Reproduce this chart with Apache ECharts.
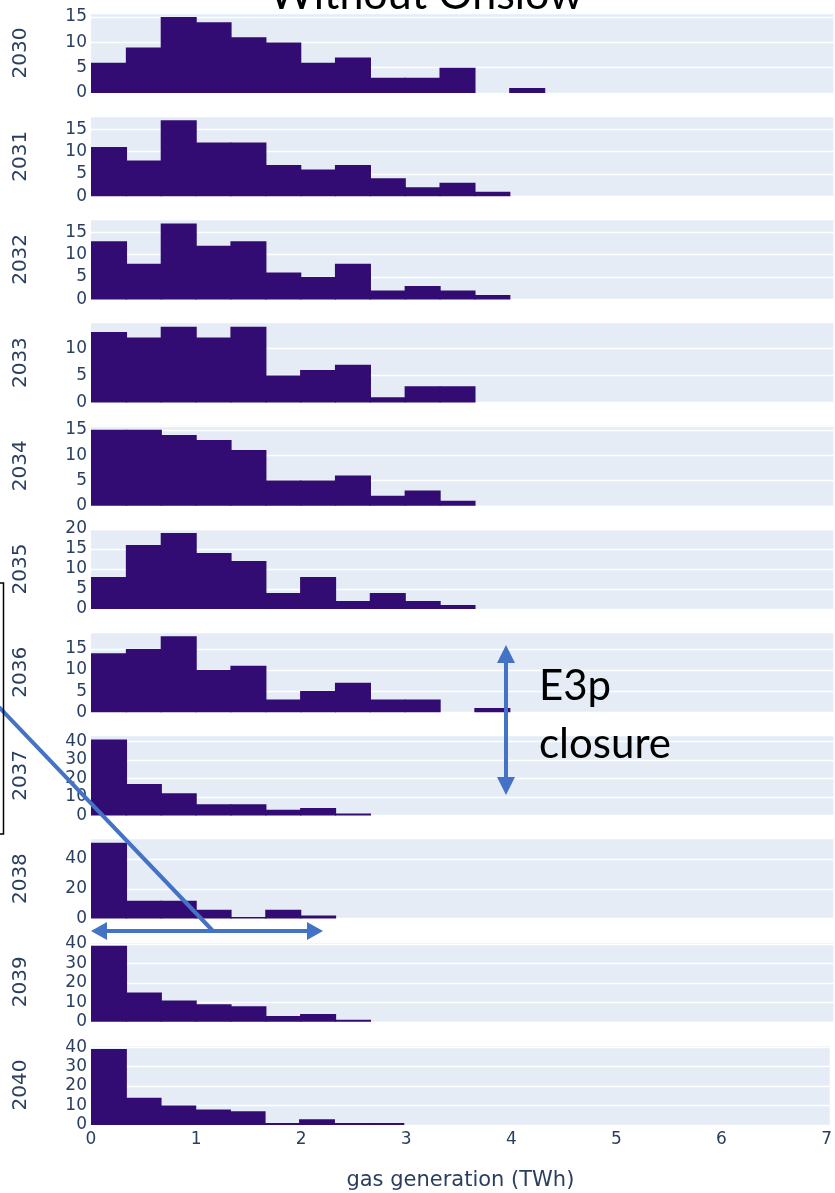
<!DOCTYPE html>
<html>
<head>
<meta charset="utf-8">
<script src="https://cdn.jsdelivr.net/npm/echarts@6/dist/echarts.min.js"></script>
<style>
html,body{margin:0;padding:0;background:#fff;}
#chart{width:835px;height:1193px;}
</style>
</head>
<body>
<div id="chart"></div>
<script>
// ---- data ----
const years = ['2030','2031','2032','2033','2034','2035','2036','2037','2038','2039','2040'];
const binWidth = 0.33; // TWh per histogram bin, bins start at 0
const counts2030 = [6, 9, 15, 14, 11, 10, 6, 7, 3, 3, 5, 0, 1];
const counts2031 = [11, 8, 17, 12, 12, 7, 6, 7, 4, 2, 3, 1];
const counts2032 = [13, 8, 17, 12, 13, 6, 5, 8, 2, 3, 2, 1];
const counts2033 = [13, 12, 14, 12, 14, 5, 6, 7, 1, 3, 3];
const counts2034 = [15, 15, 14, 13, 11, 5, 5, 6, 2, 3, 1];
const counts2035 = [8, 16, 19, 14, 12, 4, 8, 2, 4, 2, 1];
const counts2036 = [14, 15, 18, 10, 11, 3, 5, 7, 3, 3, 0, 1];
const counts2037 = [41, 17, 12, 6, 6, 3, 4, 1];
const counts2038 = [51, 12, 12, 6, 1, 6, 2];
const counts2039 = [39, 15, 11, 9, 8, 3, 4, 1];
const counts2040 = [39, 14, 10, 8, 7, 1, 3, 1, 1];
const yTickIntervals = [5, 5, 5, 5, 5, 5, 5, 10, 20, 10, 10];
const xTicks = [0, 1, 2, 3, 4, 5, 6, 7];
const xTitle = 'gas generation (TWh)';
const chartTitle = 'Without Onslow';
const noteLines = ['E3p', 'closure'];

const allCounts = [counts2030, counts2031, counts2032, counts2033, counts2034, counts2035,
                   counts2036, counts2037, counts2038, counts2039, counts2040];

// ---- layout ----
const W = 835, H = 1193;
const gridLeft = 91, xMax = 7.03, pxPerUnit = 105.6;
const gridWidth = xMax * pxPerUnit;
const panelTop0 = 13, panelStep = 103.2, panelH = 80;
const txt = '#2a3f5f';
const ff = 'DejaVu Sans';

const grids = [], xAxes = [], yAxes = [], series = [];
years.forEach((yr, i) => {
  const counts = allCounts[i];
  const maxC = Math.max.apply(null, counts);
  const iv = yTickIntervals[i];
  const last = i === years.length - 1;
  grids.push({
    left: gridLeft, width: gridWidth,
    top: panelTop0 + i * panelStep, height: panelH,
    show: true, backgroundColor: '#E5ECF6', borderWidth: 0
  });
  xAxes.push({
    type: 'value', gridIndex: i, min: xTicks[0], max: xMax, interval: 1,
    axisLine: {show: false}, axisTick: {show: false}, splitLine: {show: false},
    axisLabel: {show: last, color: txt, fontFamily: ff, fontSize: 17, margin: 6,
      formatter: v => (xTicks.indexOf(v) >= 0 ? String(v) : '')},
    name: last ? xTitle : '', nameLocation: 'middle', nameGap: 45,
    nameTextStyle: {color: txt, fontFamily: ff, fontSize: 21}
  });
  yAxes.push({
    type: 'value', gridIndex: i, min: 0, max: maxC * 1.0535, interval: iv,
    axisLine: {show: false}, axisTick: {show: false},
    splitLine: {show: true, lineStyle: {color: '#ffffff', width: 1.4}},
    axisLabel: {color: txt, fontFamily: ff, fontSize: 17, margin: 4,
      formatter: v => (Math.abs(v / iv - Math.round(v / iv)) < 1e-6 ? String(Math.round(v)) : '')},
    name: yr, nameLocation: 'middle', nameGap: 60, nameRotate: 90,
    nameTextStyle: {color: txt, fontFamily: ff, fontSize: 20}
  });
  const data = [];
  counts.forEach((c, j) => { if (c > 0) data.push([j * binWidth, (j + 1) * binWidth, c]); });
  series.push({
    type: 'custom', xAxisIndex: i, yAxisIndex: i, data: data,
    encode: {x: [0, 1], y: 2},
    renderItem: function (params, api) {
      const p0 = api.coord([api.value(0), api.value(2)]);
      const p1 = api.coord([api.value(1), 0]);
      return {type: 'rect',
        shape: {x: p0[0], y: p0[1], width: p1[0] - p0[0] + 1.2, height: p1[1] - p0[1]},
        style: {fill: '#330C73', stroke: null}};
    }
  });
});

// ---- overlay annotations (slide drawings) ----
const blue = '#4472C4';
const graphic = [
  {type: 'text', x: 426, y: 17, z: 100,
   style: {text: chartTitle, fill: '#000', font: '43px Lato', textAlign: 'center', textVerticalAlign: 'bottom'}},
  {type: 'text', x: 539, y: 707, z: 100,
   style: {text: noteLines[0], fill: '#000', font: '42px Lato', textAlign: 'left', textVerticalAlign: 'bottom'}},
  {type: 'text', x: 539, y: 765, z: 100,
   style: {text: noteLines[1], fill: '#000', font: '42px Lato', textAlign: 'left', textVerticalAlign: 'bottom'}},
  // vertical double arrow
  {type: 'line', z: 100, shape: {x1: 506, y1: 660, x2: 506, y2: 780}, style: {stroke: blue, lineWidth: 4}},
  {type: 'polygon', z: 100, shape: {points: [[506, 645], [497, 663], [515, 663]]}, style: {fill: blue}},
  {type: 'polygon', z: 100, shape: {points: [[506, 795], [497, 777], [515, 777]]}, style: {fill: blue}},
  // horizontal double arrow
  {type: 'line', z: 100, shape: {x1: 104, y1: 931, x2: 309, y2: 931}, style: {stroke: blue, lineWidth: 4}},
  {type: 'polygon', z: 100, shape: {points: [[91, 931], [107, 922], [107, 940]]}, style: {fill: blue}},
  {type: 'polygon', z: 100, shape: {points: [[323, 931], [307, 922], [307, 940]]}, style: {fill: blue}},
  // diagonal connector
  {type: 'line', z: 100, shape: {x1: -2, y1: 706, x2: 213, y2: 931}, style: {stroke: blue, lineWidth: 4}},
  // left bracket (box edge)
  {type: 'rect', z: 100, shape: {x: -20, y: 583, width: 23.5, height: 251}, style: {fill: 'none', stroke: '#000', lineWidth: 1.5}}
];

const chart = echarts.init(document.getElementById('chart'), null, {renderer: 'canvas', width: W, height: H});
chart.setOption({
  animation: false,
  backgroundColor: '#ffffff',
  grid: grids, xAxis: xAxes, yAxis: yAxes, series: series,
  graphic: graphic
});
</script>
</body>
</html>
